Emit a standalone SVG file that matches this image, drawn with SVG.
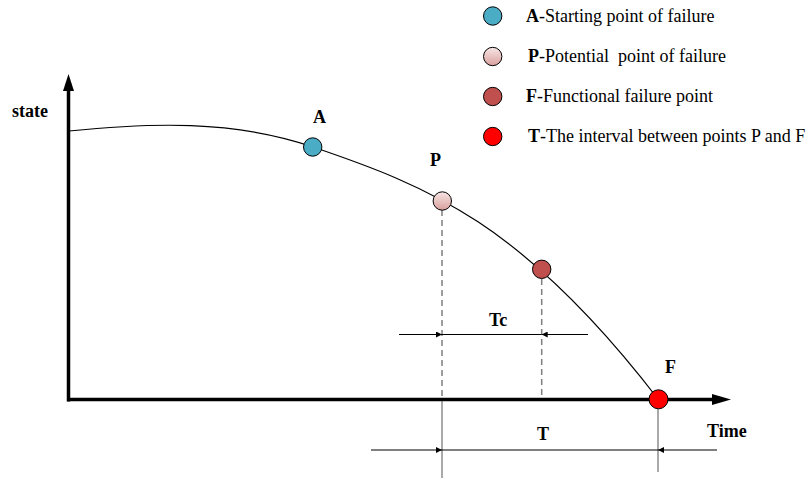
<svg xmlns="http://www.w3.org/2000/svg" width="812" height="479" viewBox="0 0 812 479">
<defs>
<linearGradient id="gP" x1="0" y1="0" x2="0" y2="1">
<stop offset="0" stop-color="#F7E6E5"/>
<stop offset="1" stop-color="#D9A09E"/>
</linearGradient>
<marker id="ar" viewBox="0 0 10 10" refX="10" refY="5" markerWidth="7" markerHeight="6" markerUnits="userSpaceOnUse" orient="auto">
<path d="M0,0 L10,5 L0,10 z" fill="#000"/>
</marker>
<style>
.t{font-family:"Liberation Serif","Times New Roman",serif;font-size:18px;fill:#000;white-space:pre}
.b{font-weight:bold}
.dot{stroke:#000;stroke-width:1}
.dash{stroke:#7f7f7f;stroke-width:1.5;stroke-dasharray:6,4;fill:none}
.vl{stroke:#555;stroke-width:1;fill:none}
.dim{stroke:#000;stroke-width:1;fill:none}
</style>
</defs>
<rect width="812" height="479" fill="#fff"/>

<g id="axes">
<line x1="68.5" y1="401.5" x2="68.5" y2="88" stroke="#000" stroke-width="3.5"/>
<path d="M63,91 L68.5,74 L74,91 z" fill="#000"/>
<line x1="67" y1="399.5" x2="715" y2="399.5" stroke="#000" stroke-width="3.5"/>
<path d="M712,394 L731,399.5 L712,405 z" fill="#000"/>
<text class="t b" x="12" y="117">state</text>
<text class="t b" x="707" y="437">Time</text>
</g>

<g id="curve">
<path d="M69,131 C150,122.9 232,119.5 313,147 C428,186.1 523,223.5 658,399" fill="none" stroke="#000" stroke-width="1.2"/>
</g>

<g id="connectors">
<line class="dash" x1="442" y1="210" x2="442" y2="399"/>
<line class="dash" x1="541.7" y1="279" x2="541.7" y2="399"/>
<line class="vl" x1="442" y1="401" x2="442" y2="478"/>
<line class="vl" x1="658" y1="409" x2="658" y2="472"/>
<line class="dim" x1="399" y1="334.5" x2="442" y2="334.5" marker-end="url(#ar)"/>
<line class="dim" x1="442" y1="334.5" x2="541.7" y2="334.5"/>
<line class="dim" x1="588" y1="334.5" x2="541.7" y2="334.5" marker-end="url(#ar)"/>
<line class="dim" x1="371" y1="450" x2="442" y2="450" stroke="#444" marker-end="url(#ar)"/>
<line class="dim" x1="442" y1="450" x2="658" y2="450" stroke="#444"/>
<line class="dim" x1="717" y1="450" x2="658" y2="450" stroke="#444" marker-end="url(#ar)"/>
</g>

<g id="nodeA">
<circle class="dot" cx="312.7" cy="147" r="9.2" fill="#4BACC6"/>
<text class="t b" x="313" y="123">A</text>
</g>
<g id="nodeP">
<circle class="dot" cx="442.3" cy="201" r="9.2" fill="url(#gP)"/>
<text class="t b" x="430" y="166">P</text>
</g>
<g id="nodeF1">
<circle class="dot" cx="541.7" cy="269.3" r="9.2" fill="#C0504D"/>
</g>
<g id="nodeF">
<circle class="dot" cx="658.5" cy="399.3" r="9.5" fill="#FF0000"/>
<text class="t b" x="665" y="373">F</text>
</g>
<g id="labelTc">
<text class="t b" x="489" y="326">Tc</text>
</g>
<g id="labelT">
<text class="t b" x="537" y="440">T</text>
</g>

<g id="legend">
<circle class="dot" cx="492.7" cy="16" r="9.2" fill="#4BACC6"/>
<text class="t" x="526" y="22"><tspan class="b">A</tspan>-Starting point of failure</text>
<circle class="dot" cx="492.7" cy="56.5" r="9.2" fill="url(#gP)"/>
<text class="t" x="528" y="62"><tspan class="b">P</tspan>-Potential  point of failure</text>
<circle class="dot" cx="492.7" cy="96.5" r="9.2" fill="#C0504D"/>
<text class="t" x="526" y="102"><tspan class="b">F</tspan>-Functional failure point</text>
<circle class="dot" cx="492.7" cy="136.5" r="9.2" fill="#FF0000"/>
<text class="t" x="528" y="142"><tspan class="b">T</tspan>-The interval between points P and F</text>
</g>
</svg>
